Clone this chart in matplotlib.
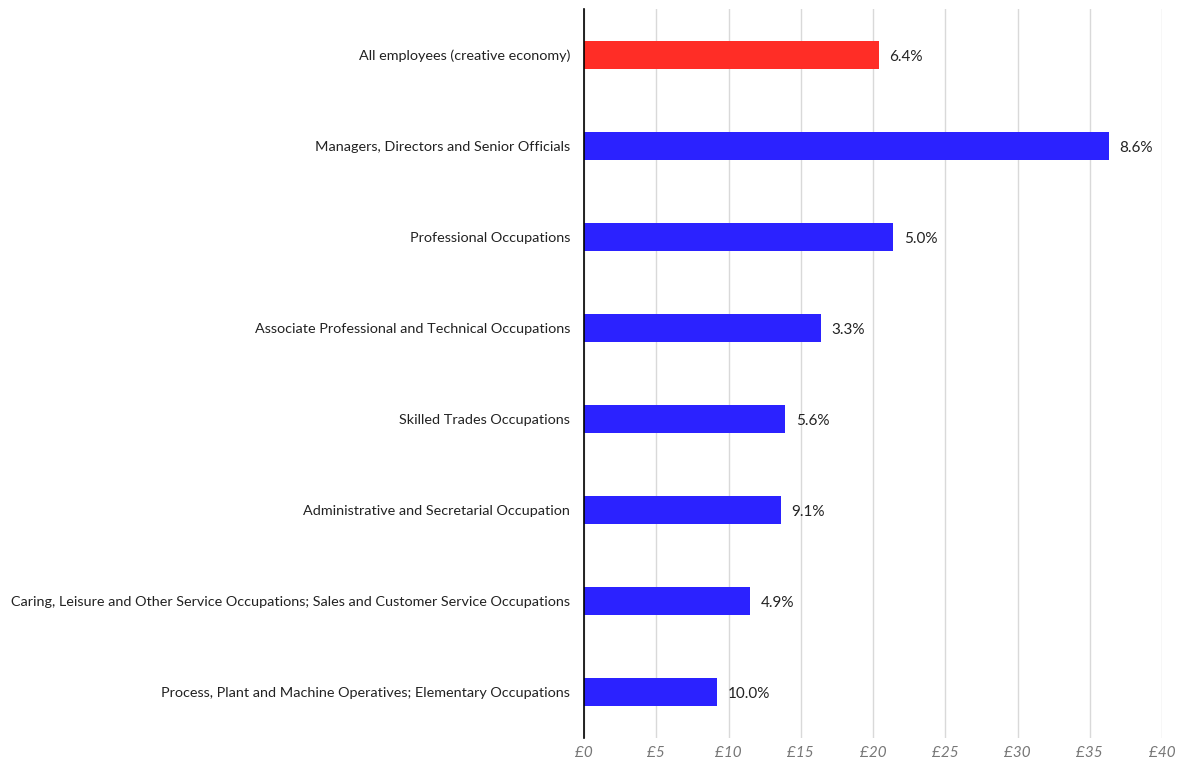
import matplotlib
matplotlib.use("Agg")
import matplotlib.pyplot as plt

categories = [
    "All employees (creative economy)",
    "Managers, Directors and Senior Officials",
    "Professional Occupations",
    "Associate Professional and Technical Occupations",
    "Skilled Trades Occupations",
    "Administrative and Secretarial Occupation",
    "Caring, Leisure and Other Service Occupations; Sales and Customer Service Occupations",
    "Process, Plant and Machine Operatives; Elementary Occupations",
]
pay = [20.4, 36.3, 21.4, 16.4, 13.9, 13.6, 11.5, 9.2]
growth = ["6.4%", "8.6%", "5.0%", "3.3%", "5.6%", "9.1%", "4.9%", "10.0%"]
ticks = [0, 5, 10, 15, 20, 25, 30, 35, 40]

plt.rcParams["font.family"] = ["Lato", "DejaVu Sans"]

fig = plt.figure(figsize=(11.79, 7.63), dpi=100)
ax = fig.add_axes([584 / 1179, 1 - 737.5 / 763, 578 / 1179, 728 / 763])

colors = ["#FF2D26"] + ["#2B22FF"] * (len(categories) - 1)
ypos = list(range(len(categories)))
ax.barh(ypos, pay, height=0.31, color=colors, zorder=3)

for y, v, lab in zip(ypos, pay, growth):
    ax.text(v + 0.75, y + 0.02, lab, va="center", ha="left", fontsize=11, color="#222222")

ax.set_yticks(ypos)
ax.set_yticklabels(categories, fontsize=10.4, color="#222222")
ax.set_ylim(len(categories) - 0.5, -0.5)
ax.set_xlim(0, 40)
ax.set_xticks(ticks)
ax.set_xticklabels([f"£{t}" for t in ticks], fontsize=11, color="#777777", style="italic")

ax.grid(axis="x", color="#d9d9d9", linewidth=1, zorder=0)
for s in ["top", "right", "bottom"]:
    ax.spines[s].set_visible(False)
ax.spines["left"].set_color("black")
ax.spines["left"].set_linewidth(1.2)
ax.spines["left"].set_zorder(4)
ax.tick_params(axis="both", length=0)
ax.tick_params(axis="y", pad=10)
ax.tick_params(axis="x", pad=6)

fig.savefig("out.png", dpi=100)
